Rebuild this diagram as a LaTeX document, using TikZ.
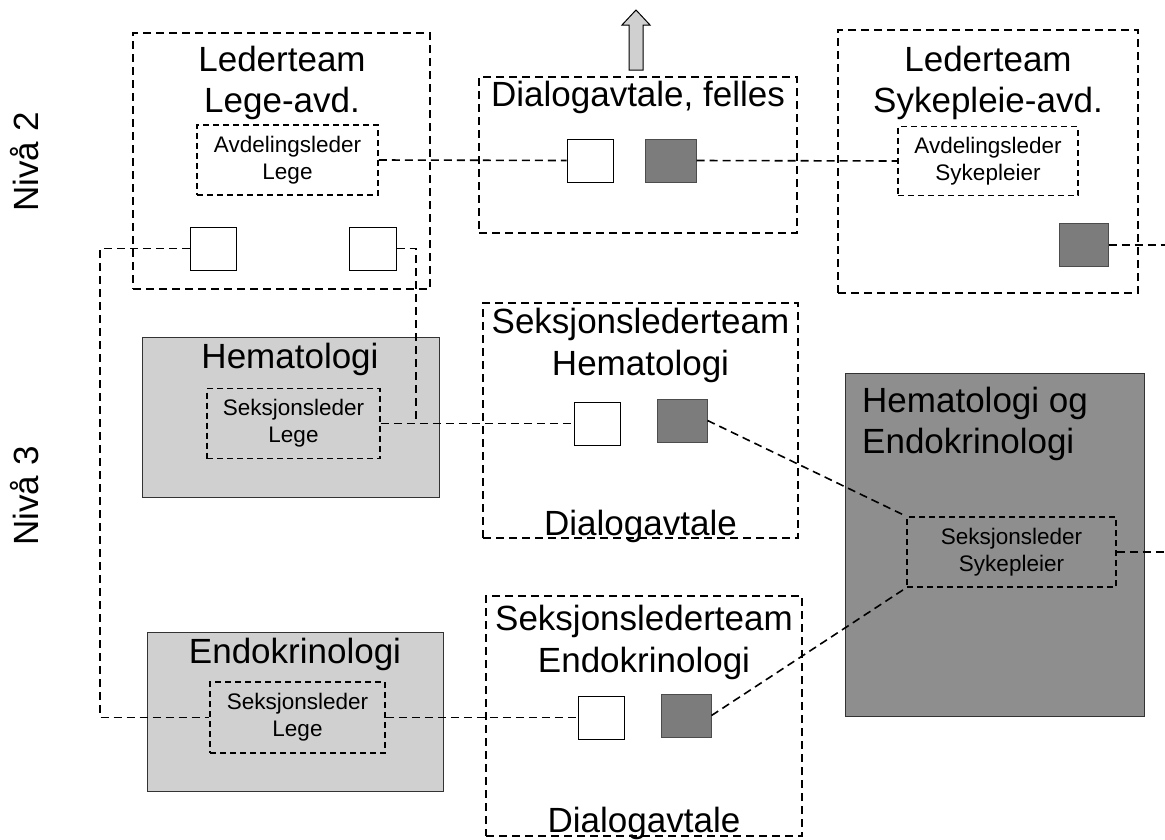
\documentclass[tikz,border=0pt]{standalone}
\usepackage{fontspec}
\setmainfont{Liberation Sans}
\usepackage{tikz}
\usetikzlibrary{calc,positioning}
\definecolor{lysgraa}{HTML}{D0D0D0}
\definecolor{morkgraa}{HTML}{8E8E8E}
\definecolor{rutegraa}{HTML}{7C7C7C}
\tikzset{
    team/.style = {draw, rectangle, line width=1.7pt,
        dash pattern=on 8pt off 5pt, inner sep=0pt},
    leder/.style = {draw, rectangle, line width=1.6pt,
        dash pattern=on 6pt off 4pt, inner sep=0pt, align=center,
        font=\fontsize{22.5}{27}\selectfont},
    enhet/.style = {draw=black!80, rectangle, line width=1pt, fill=lysgraa, inner sep=0pt},
    storenhet/.style = {draw=black!80, rectangle, line width=1pt, fill=morkgraa, inner sep=0pt},
    hvit/.style = {draw, rectangle, line width=1pt, fill=white, inner sep=0pt, minimum height=43pt},
    mork/.style = {draw=black!70, rectangle, line width=1pt, fill=rutegraa, inner sep=0pt, minimum height=43pt},
    tittel/.style = {inner sep=0pt, align=center, font=\fontsize{35}{41}\selectfont},
    link/.style = {draw, line width=1.6pt, dash pattern=on 8pt off 5pt},
    pil/.style = {draw, line width=1pt, fill=lysgraa}
}

\begin{document}
\begin{tikzpicture}[x=1pt, y=-1pt]
    \useasboundingbox (0,0) rectangle (1165,839);
    % nivaa
    \node [tittel, rotate=90] (niva2) at (25,162) {Nivå 2};
    \node [tittel, rotate=90] (niva3) at (25,496) {Nivå 3};
    % niva 2
    \node [team, minimum width=297pt, minimum height=256pt] (ledLege) at (281.5,161) {};
    \node [tittel, anchor=base] (ledLegeT) at (282,112) {Lederteam\\Lege-avd.};
    \node [leder, minimum width=181pt, minimum height=70pt] (avdLege) at (287.5,160) {Avdelingsleder\\Lege};
    \node [hvit, minimum width=46pt] (legeHvitV) at (213,248.5) {};
    \node [hvit, minimum width=47pt] (legeHvitH) at (372.5,248.5) {};
    \node [team, minimum width=318pt, minimum height=156pt] (felles) at (638,155) {};
    \node [tittel, anchor=base] (fellesT) at (638,106) {Dialogavtale, felles};
    \node [hvit, minimum width=46pt] (fellesHvit) at (590,160.5) {};
    \node [mork, minimum width=51pt] (fellesMork) at (670.5,160.5) {};
    \draw [pil] (629,70) -- (629,25) -- (622,25) -- (636,10) -- (650,25) -- (643,25) -- (643,70) -- cycle;
    \node [team, minimum width=300pt, minimum height=263pt] (ledSyk) at (988,161.5) {};
    \node [tittel, anchor=base] (ledSykT) at (988,112) {Lederteam\\Sykepleie-avd.};
    \node [leder, minimum width=180pt, minimum height=69pt] (avdSyk) at (988,161) {Avdelingsleder\\Sykepleier};
    \node [mork, minimum width=49pt] (sykMork) at (1083.5,245) {};
    % niva 3
    \node [enhet, minimum width=297pt, minimum height=160pt] (hem) at (290.5,417) {};
    \node [tittel, anchor=base] (hemT) at (290,368) {Hematologi};
    \node [leder, minimum width=173pt, minimum height=70pt] (hemSeks) at (293.5,423.5) {Seksjonsleder\\Lege};
    \node [team, minimum width=315pt, minimum height=235pt] (hemTeam) at (640.5,420.5) {};
    \node [tittel, anchor=base] (hemTeamT) at (640.5,375) {Seksjonslederteam\\[1pt]Hematologi};
    \node [tittel, anchor=base] (hemAvtale) at (640.5,535) {Dialogavtale};
    \node [hvit, minimum width=46pt] (hemHvit) at (597,423.5) {};
    \node [mork, minimum width=50pt] (hemMork) at (682,420.5) {};
    \node [enhet, minimum width=296pt, minimum height=159pt] (endo) at (295,711.5) {};
    \node [tittel, anchor=base] (endoT) at (295,663) {Endokrinologi};
    \node [leder, minimum width=175pt, minimum height=71pt] (endoSeks) at (297.5,717.5) {Seksjonsleder\\Lege};
    \node [team, minimum width=316pt, minimum height=240pt] (endoTeam) at (644,716) {};
    \node [tittel, anchor=base] (endoTeamT) at (644,672) {Seksjonslederteam\\[1pt]Endokrinologi};
    \node [tittel, anchor=base] (endoAvtale) at (644,832) {Dialogavtale};
    \node [hvit, minimum width=46pt] (endoHvit) at (601,717.5) {};
    \node [mork, minimum width=50pt] (endoMork) at (686,715.5) {};
    \node [storenhet, minimum width=299pt, minimum height=343pt] (felleshem) at (994.5,544.5) {};
    \node [tittel, anchor=base west, align=left] (felleshemT) at (862,453) {Hematologi og\\Endokrinologi};
    \node [leder, minimum width=209pt, minimum height=70pt] (sykSeks) at (1011.5,552) {Seksjonsleder\\Sykepleier};
    % forbindelser
    \coordinate (knekkV) at (100,248.5);
    \coordinate (knekkH) at (416,423.5);
    \coordinate (hoyre1) at (1165,245);
    \coordinate (hoyre2) at (1165,552);
    \draw [link] (avdLege.east) -- (fellesHvit.west);
    \draw [link] (fellesMork.east) -- (avdSyk.west);
    \draw [link] (sykMork.east) -- (hoyre1);
    \draw [link] (legeHvitV.west) -- (knekkV) |- (endoSeks.west);
    \draw [link] (legeHvitH.east) -| (knekkH);
    \draw [link] (hemSeks.east) -- (hemHvit.west);
    \draw [link] (endoSeks.east) -- (endoHvit.west);
    \draw [link] (hemMork.east) -- (sykSeks.north west);
    \draw [link] (endoMork.east) -- (sykSeks.south west);
    \draw [link] (sykSeks.east) -- (hoyre2);
\end{tikzpicture}
\end{document}
